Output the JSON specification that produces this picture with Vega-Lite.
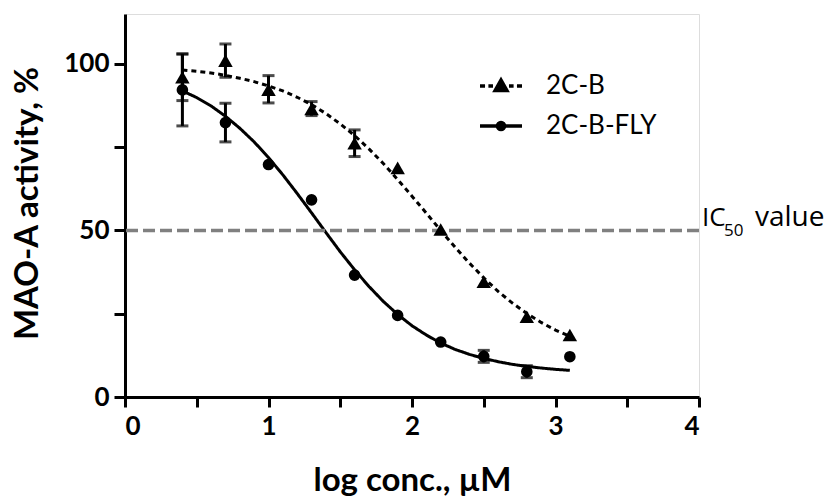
{
  "$schema": "https://vega.github.io/schema/vega-lite/v6.json",
  "width": 574,
  "height": 383,
  "padding": {"left": 11, "top": 14, "right": 5, "bottom": 5},
  "datasets": {
    "points": [
      {"x": 0.4, "y": 96, "lo": 89, "hi": 103, "s": "2C-B"},
      {"x": 0.7, "y": 101, "lo": 96, "hi": 106, "s": "2C-B"},
      {"x": 1.0, "y": 92.3, "lo": 88.3, "hi": 96.5, "s": "2C-B"},
      {"x": 1.3, "y": 86.5, "lo": 84.5, "hi": 88.7, "s": "2C-B"},
      {"x": 1.6, "y": 76.2, "lo": 72.2, "hi": 80.2, "s": "2C-B"},
      {"x": 1.9, "y": 68.8, "s": "2C-B"},
      {"x": 2.2, "y": 50.3, "s": "2C-B"},
      {"x": 2.5, "y": 34.6, "s": "2C-B"},
      {"x": 2.8, "y": 24.1, "s": "2C-B"},
      {"x": 3.1, "y": 18.6, "s": "2C-B"},
      {"x": 0.4, "y": 92.2, "lo": 81.4, "hi": 103, "s": "2C-B-FLY"},
      {"x": 0.7, "y": 82.4, "lo": 76.6, "hi": 88.2, "s": "2C-B-FLY"},
      {"x": 1.0, "y": 69.8, "s": "2C-B-FLY"},
      {"x": 1.3, "y": 59.2, "s": "2C-B-FLY"},
      {"x": 1.6, "y": 36.6, "s": "2C-B-FLY"},
      {"x": 1.9, "y": 24.5, "s": "2C-B-FLY"},
      {"x": 2.2, "y": 16.5, "s": "2C-B-FLY"},
      {"x": 2.5, "y": 12.2, "lo": 10.4, "hi": 14, "s": "2C-B-FLY"},
      {"x": 2.8, "y": 7.6, "lo": 5.8, "hi": 9.4, "s": "2C-B-FLY"},
      {"x": 3.1, "y": 12.1, "s": "2C-B-FLY"}
    ],
    "curve": [
      {"x": 0.4, "y": 98.2, "s": "2C-B"}, {"x": 0.5, "y": 97.8, "s": "2C-B"}, {"x": 0.6, "y": 97.3, "s": "2C-B"},
      {"x": 0.7, "y": 96.6, "s": "2C-B"}, {"x": 0.8, "y": 95.7, "s": "2C-B"}, {"x": 0.9, "y": 94.7, "s": "2C-B"},
      {"x": 1.0, "y": 93.4, "s": "2C-B"}, {"x": 1.1, "y": 91.9, "s": "2C-B"}, {"x": 1.2, "y": 90.0, "s": "2C-B"},
      {"x": 1.3, "y": 87.8, "s": "2C-B"}, {"x": 1.4, "y": 85.1, "s": "2C-B"}, {"x": 1.5, "y": 82.0, "s": "2C-B"},
      {"x": 1.6, "y": 78.5, "s": "2C-B"}, {"x": 1.7, "y": 74.5, "s": "2C-B"}, {"x": 1.8, "y": 70.1, "s": "2C-B"},
      {"x": 1.9, "y": 65.3, "s": "2C-B"}, {"x": 2.0, "y": 60.3, "s": "2C-B"}, {"x": 2.1, "y": 55.2, "s": "2C-B"},
      {"x": 2.2, "y": 50.0, "s": "2C-B"}, {"x": 2.3, "y": 45.0, "s": "2C-B"}, {"x": 2.4, "y": 40.2, "s": "2C-B"},
      {"x": 2.5, "y": 35.8, "s": "2C-B"}, {"x": 2.6, "y": 31.7, "s": "2C-B"}, {"x": 2.7, "y": 28.2, "s": "2C-B"},
      {"x": 2.8, "y": 25.1, "s": "2C-B"}, {"x": 2.9, "y": 22.4, "s": "2C-B"}, {"x": 3.0, "y": 20.1, "s": "2C-B"},
      {"x": 3.1, "y": 18.2, "s": "2C-B"},
      {"x": 0.4, "y": 91.9, "s": "2C-B-FLY"}, {"x": 0.5, "y": 89.9, "s": "2C-B-FLY"}, {"x": 0.6, "y": 87.4, "s": "2C-B-FLY"},
      {"x": 0.7, "y": 84.3, "s": "2C-B-FLY"}, {"x": 0.8, "y": 80.7, "s": "2C-B-FLY"}, {"x": 0.9, "y": 76.6, "s": "2C-B-FLY"},
      {"x": 1.0, "y": 71.9, "s": "2C-B-FLY"}, {"x": 1.1, "y": 66.7, "s": "2C-B-FLY"}, {"x": 1.2, "y": 61.1, "s": "2C-B-FLY"},
      {"x": 1.3, "y": 55.3, "s": "2C-B-FLY"}, {"x": 1.4, "y": 49.4, "s": "2C-B-FLY"}, {"x": 1.5, "y": 43.6, "s": "2C-B-FLY"},
      {"x": 1.6, "y": 38.2, "s": "2C-B-FLY"}, {"x": 1.7, "y": 33.2, "s": "2C-B-FLY"}, {"x": 1.8, "y": 28.7, "s": "2C-B-FLY"},
      {"x": 1.9, "y": 24.8, "s": "2C-B-FLY"}, {"x": 2.0, "y": 21.4, "s": "2C-B-FLY"}, {"x": 2.1, "y": 18.6, "s": "2C-B-FLY"},
      {"x": 2.2, "y": 16.2, "s": "2C-B-FLY"}, {"x": 2.3, "y": 14.3, "s": "2C-B-FLY"}, {"x": 2.4, "y": 12.8, "s": "2C-B-FLY"},
      {"x": 2.5, "y": 11.6, "s": "2C-B-FLY"}, {"x": 2.6, "y": 10.6, "s": "2C-B-FLY"}, {"x": 2.7, "y": 9.8, "s": "2C-B-FLY"},
      {"x": 2.8, "y": 9.2, "s": "2C-B-FLY"}, {"x": 2.9, "y": 8.7, "s": "2C-B-FLY"}, {"x": 3.0, "y": 8.3, "s": "2C-B-FLY"},
      {"x": 3.1, "y": 8.0, "s": "2C-B-FLY"}
    ]
  },
  "layer": [
    {
      "data": {"name": "curve"},
      "mark": {"type": "line", "color": "black", "strokeWidth": 3},
      "encoding": {
        "x": {
          "field": "x", "type": "quantitative",
          "scale": {"domain": [0, 4], "nice": false, "zero": false},
          "axis": {
            "title": "log conc., µM",
            "values": [0, 0.5, 1, 1.5, 2, 2.5, 3, 3.5, 4],
            "labelExpr": "datum.value % 1 === 0 ? format(datum.value, 'd') : ''",
            "grid": false,
            "domainColor": "black", "domainWidth": 3,
            "tickColor": "black", "tickWidth": 3, "tickSize": 10,
            "labelFont": "Lato", "labelFontSize": 26, "labelFontWeight": "bold", "labelColor": "black",
            "labelPadding": 6,
            "titleFont": "Lato", "titleFontSize": 33, "titleFontWeight": "bold", "titleColor": "black",
            "titleX": 287, "titleY": 93, "titleBaseline": "alphabetic"
          }
        },
        "y": {
          "field": "y", "type": "quantitative",
          "scale": {"domain": [0, 115], "nice": false, "zero": false},
          "axis": {
            "title": "MAO-A activity, %",
            "values": [0, 25, 50, 75, 100],
            "labelExpr": "datum.value % 50 === 0 ? format(datum.value, 'd') : ''",
            "grid": false,
            "domainColor": "black", "domainWidth": 3,
            "tickColor": "black", "tickWidth": 3, "tickSize": 11,
            "labelFont": "Lato", "labelFontSize": 26, "labelFontWeight": "bold", "labelColor": "black",
            "labelPadding": 5,
            "titleFont": "Lato", "titleFontSize": 33, "titleFontWeight": "bold", "titleColor": "black",
            "titleAngle": -90, "titleX": -88, "titleY": 189, "titleBaseline": "alphabetic", "titleAlign": "center"
          }
        },
        "strokeDash": {
          "field": "s", "type": "nominal",
          "scale": {"domain": ["2C-B", "2C-B-FLY"], "range": [[5, 4], [1, 0]]},
          "legend": null
        }
      }
    },
    {
      "data": {"values": [{}]},
      "mark": {"type": "rule", "color": "#808080", "strokeWidth": 3.5, "strokeDash": [12, 5]},
      "encoding": {"y": {"datum": 50, "type": "quantitative"}}
    },
    {
      "data": {"name": "points"},
      "transform": [{"filter": "datum.lo != null"}],
      "mark": {"type": "rule", "color": "black", "strokeWidth": 3},
      "encoding": {
        "x": {"field": "x", "type": "quantitative"},
        "y": {"field": "lo", "type": "quantitative"},
        "y2": {"field": "hi"}
      }
    },
    {
      "data": {"name": "points"},
      "transform": [{"filter": "datum.lo != null"}],
      "mark": {"type": "tick", "orient": "horizontal", "color": "black", "size": 12, "thickness": 3},
      "encoding": {
        "x": {"field": "x", "type": "quantitative"},
        "y": {"field": "lo", "type": "quantitative"}
      }
    },
    {
      "data": {"name": "points"},
      "transform": [{"filter": "datum.lo != null"}],
      "mark": {"type": "tick", "orient": "horizontal", "color": "black", "size": 12, "thickness": 3},
      "encoding": {
        "x": {"field": "x", "type": "quantitative"},
        "y": {"field": "hi", "type": "quantitative"}
      }
    },
    {
      "data": {"name": "points"},
      "mark": {"type": "point", "filled": true, "color": "black", "opacity": 1},
      "encoding": {
        "x": {"field": "x", "type": "quantitative"},
        "y": {"field": "y", "type": "quantitative"},
        "shape": {
          "field": "s", "type": "nominal",
          "scale": {"domain": ["2C-B", "2C-B-FLY"], "range": ["triangle-up", "circle"]},
          "legend": null
        },
        "size": {
          "field": "s", "type": "nominal",
          "scale": {"domain": ["2C-B", "2C-B-FLY"], "range": [210, 135]},
          "legend": null
        }
      }
    },
    {
      "data": {"name": "points"},
      "mark": {"type": "point", "filled": false, "color": "black", "opacity": 0},
      "encoding": {
        "x": {"field": "x", "type": "quantitative"},
        "y": {"field": "y", "type": "quantitative"},
        "shape": {
          "field": "s", "type": "nominal",
          "scale": {
            "domain": ["2C-B", "2C-B-FLY"],
            "range": [
              "M-1,0H-0.76M-0.6,0H-0.38M0.38,0H0.6M0.76,0H1M-0.28,0.22L0,-0.28L0.28,0.22ZM-0.14,0.12L0,-0.13L0.14,0.12ZM-0.06,0.08H0.06",
              "M-1,0H1M0.17,0A0.17,0.17 0 1,1 -0.17,0A0.17,0.17 0 1,1 0.17,0ZM0,-0.08V0.08"
            ]
          },
          "legend": {
            "title": null,
            "orient": "none",
            "legendX": 353,
            "legendY": 49,
            "direction": "vertical",
            "padding": 0,
            "symbolSize": 1764,
            "symbolStrokeWidth": 3.5,
            "symbolStrokeColor": "black",
            "symbolOpacity": 1,
            "labelFont": "Lato",
            "labelFontSize": 26,
            "labelColor": "black",
            "labelOffset": 22,
            "rowPadding": 4
          }
        }
      }
    },
    {
      "data": {"values": [{}]},
      "mark": {"type": "text", "text": "IC", "font": "Open Sans", "fontSize": 26, "color": "black", "align": "left", "baseline": "alphabetic", "dx": 3, "dy": -4},
      "encoding": {"x": {"datum": 4, "type": "quantitative"}, "y": {"datum": 50, "type": "quantitative"}}
    },
    {
      "data": {"values": [{}]},
      "mark": {"type": "text", "text": "50", "font": "Open Sans", "fontSize": 17, "color": "black", "align": "left", "baseline": "alphabetic", "dx": 25, "dy": 6},
      "encoding": {"x": {"datum": 4, "type": "quantitative"}, "y": {"datum": 50, "type": "quantitative"}}
    },
    {
      "data": {"values": [{}]},
      "mark": {"type": "text", "text": "value", "font": "Open Sans", "fontSize": 28, "color": "black", "align": "left", "baseline": "alphabetic", "dx": 56, "dy": -4},
      "encoding": {"x": {"datum": 4, "type": "quantitative"}, "y": {"datum": 50, "type": "quantitative"}}
    }
  ],
  "resolve": {"scale": {"shape": "independent", "size": "independent"}, "legend": {"shape": "independent"}}
}
